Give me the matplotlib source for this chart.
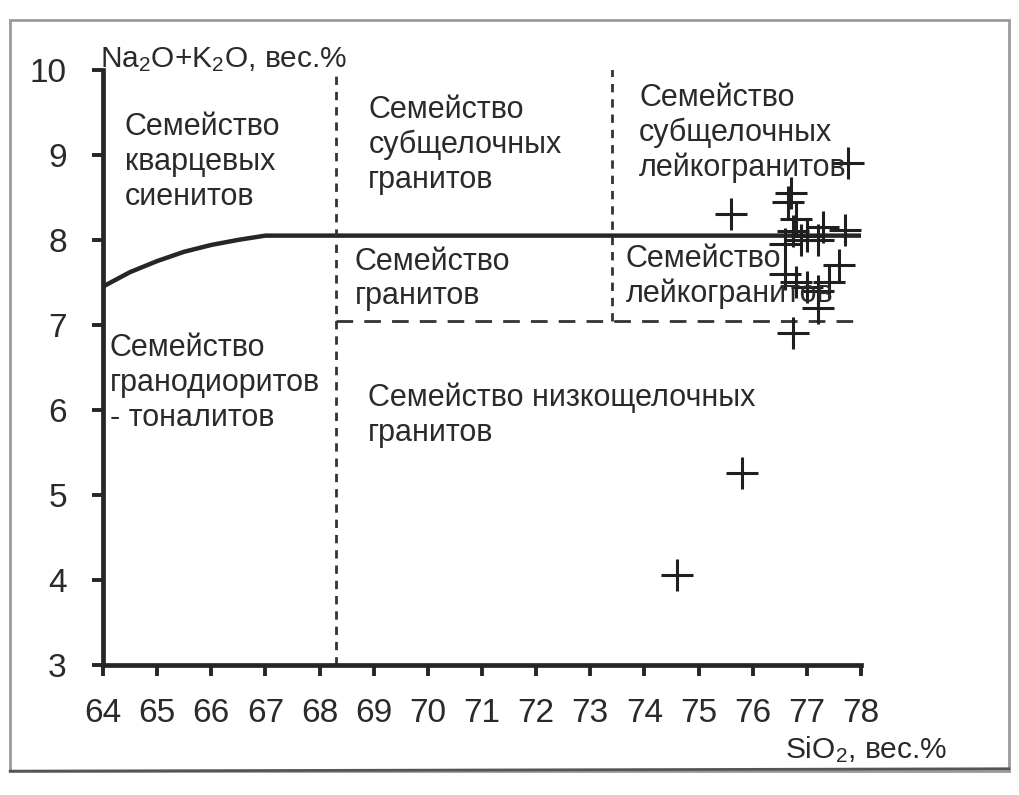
import matplotlib
matplotlib.use("Agg")
import matplotlib.pyplot as plt
from matplotlib.patches import Rectangle

plt.rcParams['font.family'] = ['Liberation Sans', 'DejaVu Sans']
plt.rcParams['mathtext.fontset'] = 'custom'
plt.rcParams['mathtext.rm'] = 'Liberation Sans'
plt.rcParams['mathtext.it'] = 'Liberation Sans'

# SiO2 / Na2O+K2O analyses (wt.%)
sio2 = [74.6, 75.8, 75.6, 76.7, 76.65, 76.8, 76.75, 76.6, 77.0, 77.2, 77.3,
        77.7, 76.9, 77.75, 76.6, 76.8, 77.0, 77.2, 77.4, 77.6, 77.2, 76.75]
alk = [4.05, 5.25, 8.3, 8.55, 8.45, 8.25, 8.1, 7.95, 8.05, 8.0, 8.15,
       8.12, 8.0, 8.9, 7.6, 7.5, 7.45, 7.4, 7.5, 7.7, 7.2, 6.9]

# boundary between quartz syenites / granites and granodiorites
bound_x = [64.0, 64.5, 65.0, 65.5, 66.0, 66.5, 67.0, 78.0]
bound_y = [7.45, 7.62, 7.75, 7.86, 7.94, 8.0, 8.05, 8.05]

# dashed family boundaries
granite_si = 68.3
leuco_si = 73.4
lowalk_level = 7.05

x_ticks = list(range(64, 79))
y_ticks = list(range(3, 11))

fig = plt.figure(figsize=(10.19, 7.95), dpi=100)
ax = fig.add_axes([0.101, 0.164, 0.744, 0.748])

ax.plot(bound_x, bound_y, color='#262626', lw=3.2, solid_capstyle='butt')
ax.plot([granite_si, granite_si], [3, 10.1], color='#333333', lw=2.0,
        linestyle=(0, (3, 2.5)))
ax.plot([leuco_si, leuco_si], [lowalk_level, 10.1], color='#333333', lw=2.0,
        linestyle=(0, (3, 2.5)))
ax.plot([granite_si, 78.0], [lowalk_level, lowalk_level], color='#333333',
        lw=2.0, linestyle=(0, (6, 4)))

ax.plot(sio2, alk, linestyle='none', marker='+', markersize=23,
        markeredgewidth=2.2, color='#1f1f1f', clip_on=False)

label_kw = dict(fontsize=22, color='#2a2a2a', ha='left', va='top',
                linespacing=1.2)
ax.text(64.4, 9.5, "Семейство\nкварцевых\nсиенитов", **label_kw)
ax.text(68.9, 9.7, "Семейство\nсубщелочных\nгранитов", **label_kw)
ax.text(73.9, 9.85, "Семейство\nсубщелочных\nлейкогранитов", **label_kw)
ax.text(68.65, 7.92, "Семейство\nгранитов", **label_kw)
ax.text(73.65, 7.95, "Семейство\nлейкогранитов", **label_kw)
ax.text(64.13, 6.9, "Семейство\nгранодиоритов\n- тоналитов", **label_kw)
ax.text(68.9, 6.32, "Семейство низкощелочных\nгранитов", **label_kw)

ax.text(63.95, 10.12, r"Na$_2$O+K$_2$O, вес.%", fontsize=21.5, color='#2a2a2a',
        ha='left', va='center', clip_on=False)
ax.text(79.6, 2.0, r"SiO$_2$, вес.%", fontsize=21.5, color='#2a2a2a',
        ha='right', va='center', clip_on=False)

ax.set_xlim(64, 78)
ax.set_ylim(3, 10)
ax.set_xticks(x_ticks)
ax.set_yticks(y_ticks)
ax.tick_params(axis='both', direction='out', length=8, width=2.8,
               color='#262626', labelsize=24, labelcolor='#2a2a2a')
ax.tick_params(axis='x', pad=16)
ax.tick_params(axis='y', pad=18)

for side in ('top', 'right'):
    ax.spines[side].set_visible(False)
for side in ('left', 'bottom'):
    ax.spines[side].set_linewidth(3.4)
    ax.spines[side].set_color('#262626')
ax.patch.set_visible(False)

# page frame around the figure
fig.patches.append(Rectangle((0.01, 0.03), 0.98, 0.945, transform=fig.transFigure,
                             fill=False, edgecolor='#9a9a9a', lw=2.0))
fig.add_artist(plt.Line2D([0.01, 0.99], [0.03, 0.033], transform=fig.transFigure,
                          color='#555555', lw=2.0))

fig.savefig("out.png", dpi=100, facecolor='white')
